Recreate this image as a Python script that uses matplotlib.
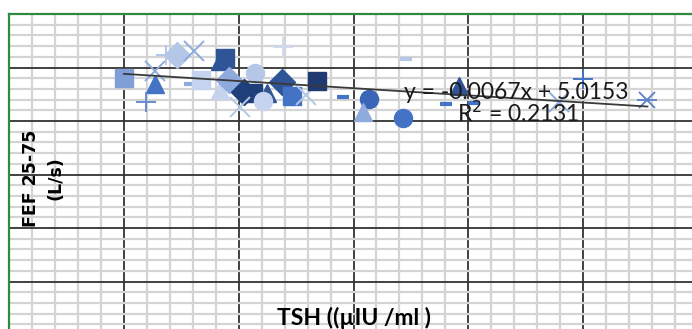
import matplotlib
matplotlib.use('Agg')
import matplotlib.pyplot as plt
from matplotlib.ticker import MultipleLocator

# one marker per subject (Excel draws each as its own series)
tsh = [20.0, 25.5, 25.4, 23.8, 27.4, 29.3, 32.2, 36.7, 37.6, 31.5,
       33.5, 36.7, 38.3, 42.8, 41.0, 42.5, 44.9, 44.2, 40.2, 47.5,
       49.3, 51.8, 53.7, 47.7, 58.1, 69.2, 62.7, 61.6, 68.6, 76.1,
       78.4, 81.0, 95.8, 100.0, 111.2]
fef = [4.81, 4.70, 4.93, 4.36, 5.23, 5.23, 5.31, 5.12, 5.18, 4.70,
       4.77, 4.58, 4.77, 4.90, 4.55, 4.52, 4.53, 4.38, 4.26, 4.72,
       4.47, 4.49, 4.75, 5.39, 4.44, 5.15, 4.42, 4.17, 4.05, 4.32,
       4.65, 4.33, 4.36, 4.78, 4.39]
shape = ['s', '^', 'x', '+', '+', 'D', 'x', '^', 's', '_',
         's', '^', 'D', 'o', 'D', 's', '^', 'o', 'x', 'D',
         's', 'x', 's', '+', '_', '_', 'o', '^', 'o', '_',
         '^', '_', 'x', '+', 'asterisk']
shade = ['#7f9fd6', '#4472c4', '#8faadc', '#6a8bd0', '#b4c7e7', '#b4c7e7', '#8faadc', '#2f5597', '#2f5597', '#8faadc',
         '#c5d3ee', '#c5d3ee', '#8faadc', '#b4c7e7', '#1f3f7a', '#1f3f7a', '#2f5597', '#c5d3ee', '#b4c7e7', '#2f5597',
         '#4472c4', '#b4c7e7', '#1f3a70', '#d0dbf0', '#4472c4', '#b4c7e7', '#3a65b8', '#8faadc', '#4472c4', '#4472c4',
         '#2f5597', '#4472c4', '#8faadc', '#4472c4', '#5b7fc8']

# Excel linear trendline
slope, intercept, r2 = -0.0067, 5.0153, 0.2131

fig = plt.figure(figsize=(6.92, 3.29), dpi=100)
W, H = 692, 329
# chart is cropped: plot area runs past the right and bottom edges
ax = fig.add_axes([9 / W, (H - 335) / H, 689 / W, 321 / H])
ax.set_xlim(0, 120)
ax.set_ylim(0, 6)
ax.xaxis.set_major_locator(MultipleLocator(20))
ax.xaxis.set_minor_locator(MultipleLocator(4))
ax.yaxis.set_major_locator(MultipleLocator(1))
ax.yaxis.set_minor_locator(MultipleLocator(0.2))
ax.grid(which='minor', color='#d4d4d4', lw=1.6, zorder=0)
ax.grid(which='major', color='#333333', lw=1.3, zorder=0.5)
ax.set_axisbelow(True)
ax.tick_params(which='both', length=0, labelbottom=False, labelleft=False)
for side in ('right', 'bottom'):
    ax.spines[side].set_visible(False)
for side in ('top', 'left'):
    ax.spines[side].set_color('#2e8b3e')
    ax.spines[side].set_linewidth(1.6)

for x, y, m, c in zip(tsh, fef, shape, shade):
    if m == 'asterisk':
        ax.plot(x, y, 'x', ms=12, mew=1.3, color=c, zorder=3)
        ax.plot(x, y, '_', ms=14, mew=1.3, color=c, zorder=3)
    elif m in ('x', '+'):
        ax.plot(x, y, m, ms=15, mew=1.4, color=c, zorder=3)
    elif m == '_':
        ax.plot(x, y, m, ms=8, mew=3, color=c, zorder=3)
    else:
        ax.plot(x, y, m, ms=13, color=c, mec=c, zorder=3)

xs = [min(tsh), max(tsh)]
ax.plot(xs, [slope * v + intercept for v in xs], color='#3a3a3a', lw=1.3, zorder=4)

font = ['Lato', 'DejaVu Sans']
ax.text(68.8, 4.53, f'y = {slope:.4f}x + {intercept:.4f}', fontsize=16.5,
        family=font, color='#1a1a1a', va='center', zorder=5)
ax.text(78.0, 4.14, f'R$^2$ = {r2:.4f}', fontsize=16.5,
        family=font, color='#1a1a1a', va='center', zorder=5)

fig.text(43.5 / W, 1 - 178 / H, 'FEF 25-75\n(L/s)', rotation=90, ha='center',
         va='center', multialignment='center', linespacing=1.5,
         fontsize=12.5, fontweight='bold', family=['DejaVu Sans'])
fig.text(354 / W, 1 - 318 / H, 'TSH ((\u00b5IU /ml )', ha='center', va='center',
         fontsize=16.5, fontweight='bold', family=font)

fig.savefig('out.png', dpi=100)
